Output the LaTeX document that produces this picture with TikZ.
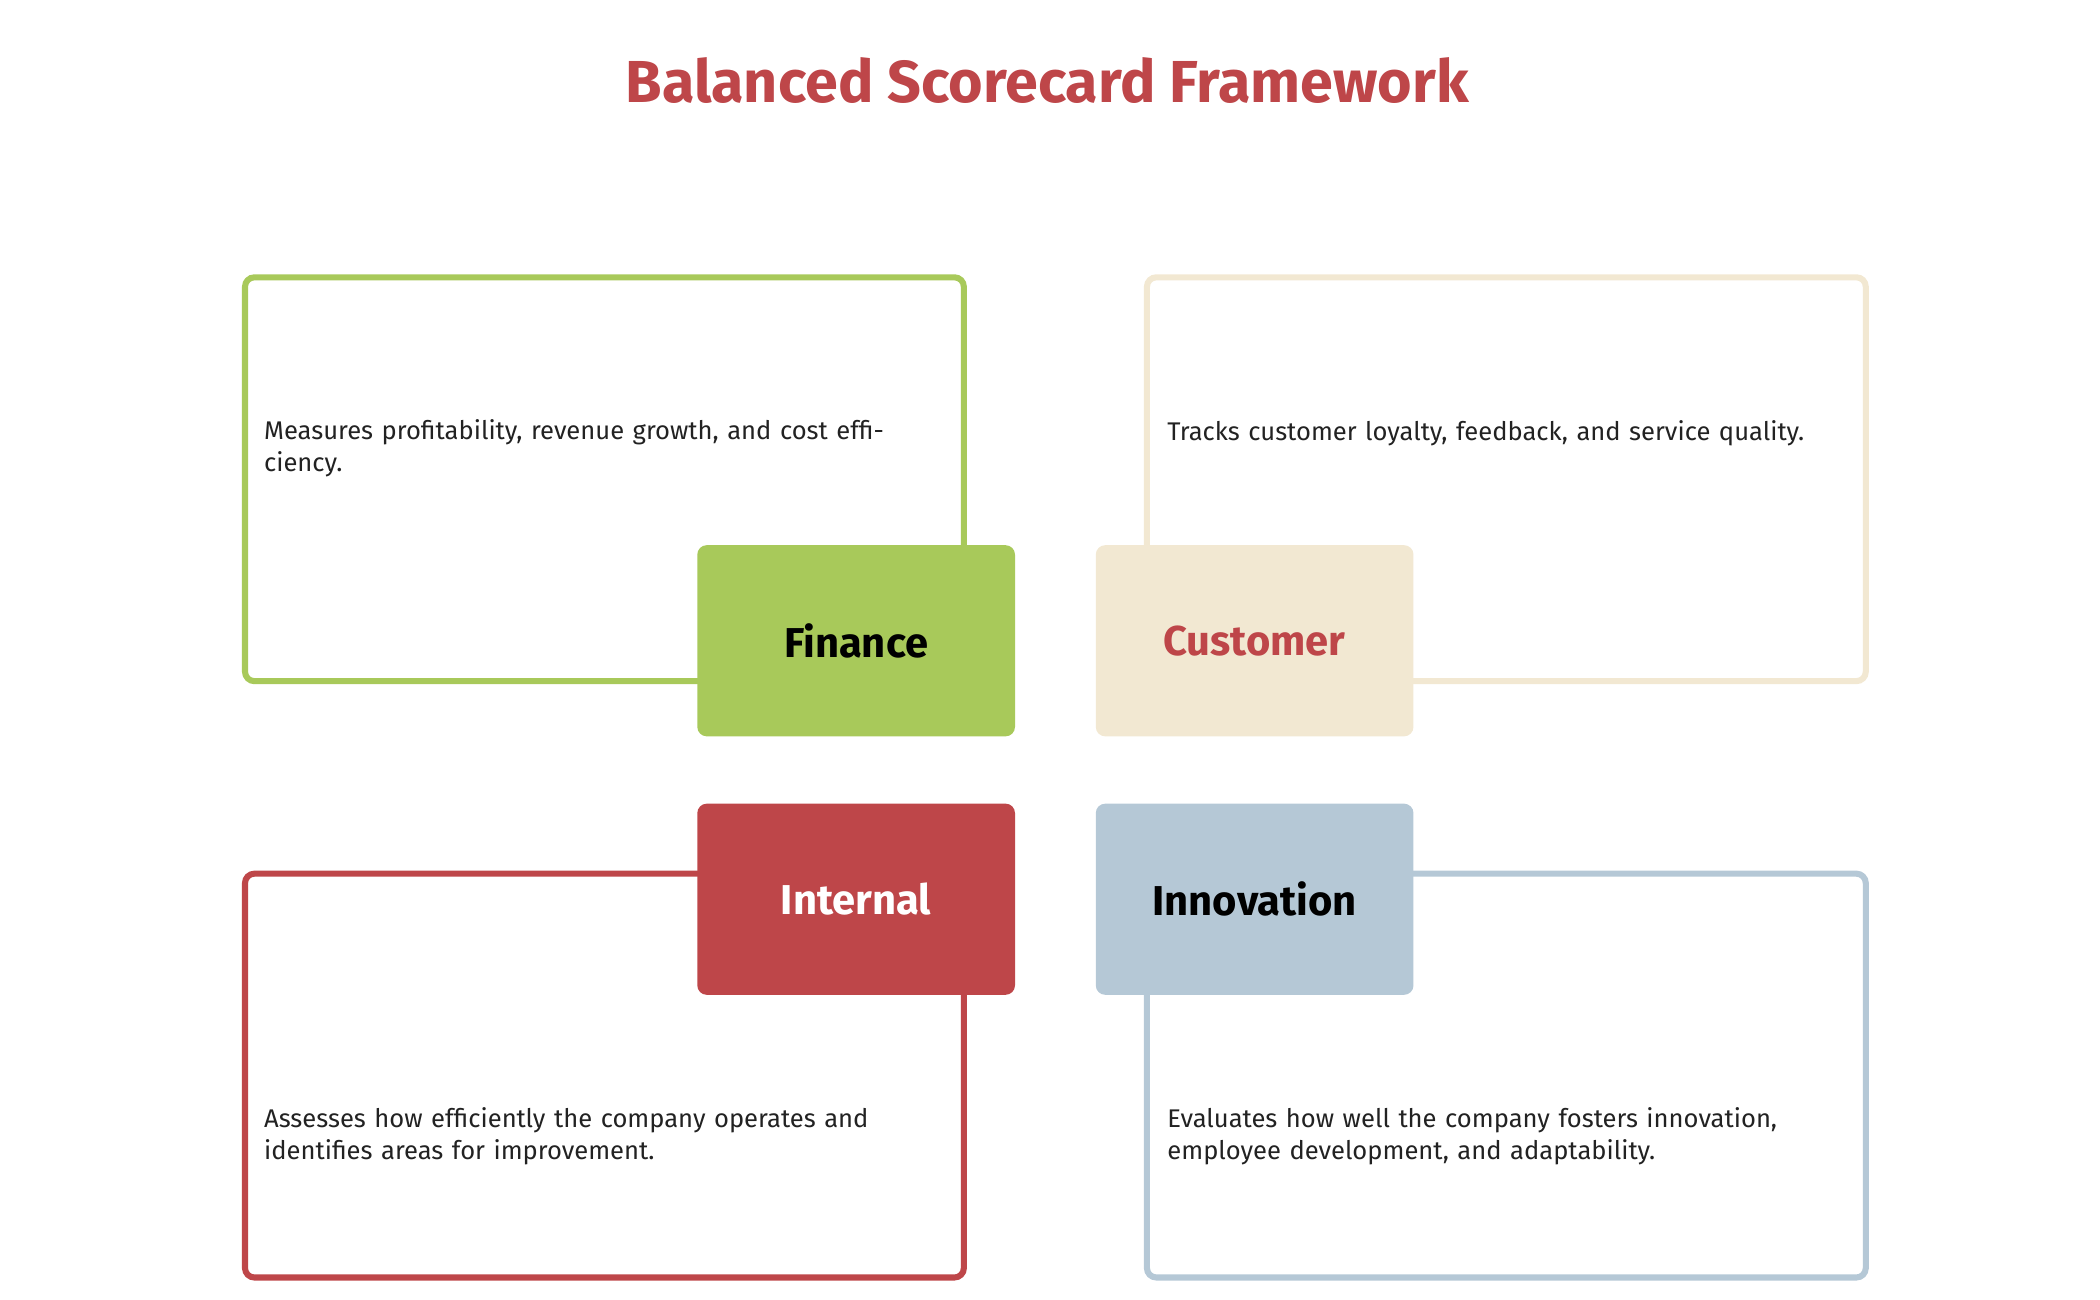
\documentclass[tikz,border=0pt]{standalone}
\usepackage{fontspec}
\setmainfont{Fira Sans}
\definecolor{cgreen}{HTML}{A8C95A}
\definecolor{ccream}{HTML}{F2E8D2}
\definecolor{cred}{HTML}{BE4649}
\definecolor{cblue}{HTML}{B5C8D6}
\definecolor{ctext}{HTML}{222222}
\begin{document}
\begin{tikzpicture}[x=1pt,y=-1pt,
  outline/.style={line width=4.5pt,rounded corners=7pt,fill=white},
  tag/.style={rounded corners=7pt},
  desc/.style={anchor=west,align=left,text width=490pt,font=\fontsize{19}{23.5}\selectfont,text=ctext,inner sep=0pt},
  lab/.style={font=\fontsize{31}{36}\selectfont\bfseries}]
\useasboundingbox (0,0) rectangle (1560,965);
\node[font=\fontsize{44}{50}\selectfont\bfseries,text=cred] (title) at (778,60) {Balanced Scorecard Framework};
% outlines
\draw[outline,draw=cgreen] (182,206) rectangle (716,506);
\draw[outline,draw=ccream] (852,206) rectangle (1386,506);
\draw[outline,draw=cred] (182,649) rectangle (716,949);
\draw[outline,draw=cblue] (852,649) rectangle (1386,949);
% tags
\fill[tag,cgreen] (518,405) rectangle (754,547);
\fill[tag,ccream] (814,405) rectangle (1050,547);
\fill[tag,cred] (518,597) rectangle (754,739);
\fill[tag,cblue] (814,597) rectangle (1050,739);
\node[lab,text=black] (fin) at (636,476) {Finance};
\node[lab,text=cred] (cus) at (932,476) {Customer};
\node[lab,text=white] (int) at (636,668) {Internal};
\node[lab,text=black] (inn) at (932,668) {Innovation};
\node[desc] (dfin) at (196,333) {Measures profitability, revenue growth, and cost efficiency.};
\node[desc] (dcus) at (867,322) {Tracks customer loyalty, feedback, and service quality.};
\node[desc] (dint) at (196,844) {Assesses how efficiently the company operates and identifies areas for improvement.};
\node[desc] (dinn) at (867,844) {Evaluates how well the company fosters innovation, employee development, and adaptability.};
\end{tikzpicture}
\end{document}
